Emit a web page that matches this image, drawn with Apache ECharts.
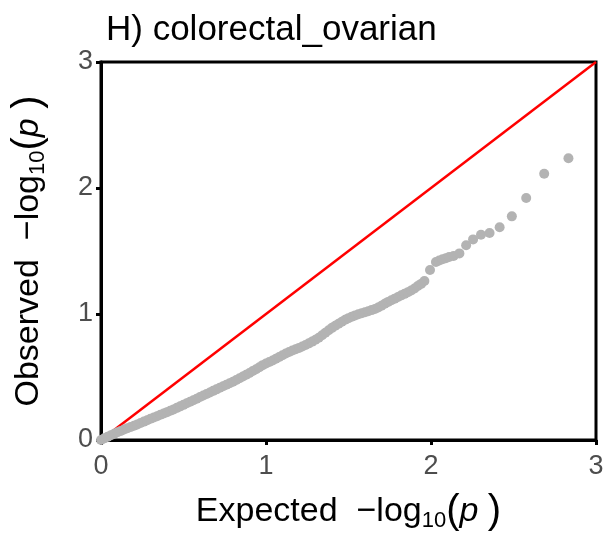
<!DOCTYPE html>
<html>
<head>
<meta charset="utf-8">
<script src="https://cdn.jsdelivr.net/npm/echarts@6/dist/echarts.min.js"></script>
<style>
  html, body { margin: 0; padding: 0; background: #fff; }
  #chart { width: 605px; height: 535px; }
</style>
</head>
<body>
<div id="chart"></div>
<script>
// QQ plot of observed vs expected -log10(p)
const panelTitle = 'H) colorectal_ovarian';
const axisTicks = [0, 1, 2, 3];

// expected -log10(p)
const expected = [
  0.00, 0.02, 0.04, 0.06, 0.08, 0.10, 0.12, 0.14, 0.16, 0.18,
  0.20, 0.22, 0.24, 0.26, 0.28, 0.30, 0.32, 0.34, 0.36, 0.38,
  0.40, 0.42, 0.44, 0.46, 0.48, 0.50, 0.52, 0.54, 0.56, 0.58,
  0.60, 0.62, 0.64, 0.66, 0.68, 0.70, 0.72, 0.74, 0.76, 0.78,
  0.80, 0.82, 0.84, 0.86, 0.88, 0.90, 0.92, 0.94, 0.96, 0.98,
  1.00, 1.02, 1.04, 1.06, 1.08, 1.10, 1.12, 1.14, 1.16, 1.18,
  1.20, 1.22, 1.24, 1.26, 1.28, 1.30, 1.32, 1.34, 1.36, 1.38,
  1.40, 1.42, 1.44, 1.46, 1.48, 1.50, 1.52, 1.54, 1.56, 1.58,
  1.60, 1.62, 1.64, 1.66, 1.68, 1.70, 1.72, 1.74, 1.76, 1.78,
  1.80, 1.82, 1.84, 1.86, 1.88, 1.90, 1.92, 1.94, 1.96, 1.994,
  2.03, 2.05, 2.07, 2.09, 2.11, 2.137, 2.172, 2.213, 2.255, 2.303,
  2.355, 2.416, 2.490, 2.577, 2.686, 2.833
];

// observed -log10(p)
const observed = [
  0.000, 0.013, 0.025, 0.037, 0.049, 0.061, 0.072, 0.083, 0.093, 0.103,
  0.113, 0.124, 0.135, 0.146, 0.157, 0.168, 0.178, 0.189, 0.200, 0.210,
  0.221, 0.232, 0.243, 0.255, 0.267, 0.279, 0.291, 0.304, 0.316, 0.328,
  0.341, 0.353, 0.365, 0.377, 0.390, 0.402, 0.414, 0.426, 0.438, 0.450,
  0.463, 0.476, 0.490, 0.504, 0.518, 0.532, 0.547, 0.562, 0.578, 0.594,
  0.607, 0.619, 0.631, 0.645, 0.659, 0.673, 0.686, 0.699, 0.710, 0.720,
  0.731, 0.742, 0.754, 0.767, 0.781, 0.796, 0.812, 0.831, 0.851, 0.871,
  0.890, 0.907, 0.923, 0.939, 0.954, 0.967, 0.979, 0.989, 0.998, 1.006,
  1.014, 1.022, 1.031, 1.040, 1.052, 1.066, 1.081, 1.096, 1.109, 1.122,
  1.135, 1.148, 1.160, 1.172, 1.186, 1.203, 1.222, 1.239, 1.262, 1.349,
  1.413, 1.425, 1.434, 1.442, 1.452, 1.460, 1.481, 1.545, 1.592, 1.629,
  1.643, 1.688, 1.775, 1.921, 2.113, 2.236
];

// y = x reference line end points
const diagonal = [0, 3];

const chart = echarts.init(document.getElementById('chart'), null, { renderer: 'canvas' });

const points = expected.map((e, i) => [e, observed[i]]);
const refLine = diagonal.map(v => [v, v]);

const FONT = 'Liberation Sans, Arial, sans-serif';
const tickLabel = { color: '#4d4d4d', fontSize: 27, fontFamily: FONT };
const nameRich = {
  t: { fontSize: 34, color: '#000', fontFamily: FONT },
  sub: { fontSize: 22, color: '#000', fontFamily: FONT, verticalAlign: 'bottom', padding: [15, 0, 0, 0] },
  par: { fontSize: 40, color: '#000', fontFamily: FONT },
  it: { fontSize: 34, color: '#000', fontStyle: 'italic', fontFamily: FONT }
};
const axisName = (label) => `{t|${label}  \u2212log}{sub|10}{par|(}{it|p }{par|)}`;

chart.setOption({
  animation: false,
  backgroundColor: '#ffffff',
  title: {
    text: panelTitle,
    left: 101,
    top: 8,
    textStyle: { fontSize: 35, fontWeight: 'normal', color: '#000', fontFamily: FONT }
  },
  grid: {
    left: 101, right: 9, top: 62, bottom: 95,
    containLabel: false,
    outerBoundsMode: 'none',
    show: true, borderColor: '#000', borderWidth: 3, backgroundColor: '#fff'
  },
  xAxis: {
    type: 'value', min: axisTicks[0], max: axisTicks[axisTicks.length - 1], interval: 1,
    name: axisName('Expected'),
    nameLocation: 'middle', nameGap: 52,
    nameTextStyle: { rich: nameRich },
    axisLine: { show: true, lineStyle: { color: '#000', width: 3 } },
    axisTick: { show: true, length: 5, lineStyle: { color: '#000', width: 3 } },
    axisLabel: Object.assign({ margin: 13 }, tickLabel),
    splitLine: { show: false }
  },
  yAxis: {
    type: 'value', min: axisTicks[0], max: axisTicks[axisTicks.length - 1], interval: 1,
    name: axisName('Observed'),
    nameLocation: 'middle', nameGap: 52,
    nameTextStyle: { rich: nameRich },
    axisLine: { show: true, lineStyle: { color: '#000', width: 3 } },
    axisTick: { show: true, length: 5, lineStyle: { color: '#000', width: 3 } },
    axisLabel: Object.assign({ margin: 8 }, tickLabel),
    splitLine: { show: false }
  },
  series: [
    {
      type: 'line',
      data: refLine,
      symbol: 'none',
      lineStyle: { color: '#ff0000', width: 2.5 },
      z: 2,
      silent: true
    },
    {
      type: 'scatter',
      data: points,
      symbolSize: 10,
      itemStyle: { color: '#b3b3b3', opacity: 1 },
      z: 3,
      silent: true
    }
  ]
});
</script>
</body>
</html>
